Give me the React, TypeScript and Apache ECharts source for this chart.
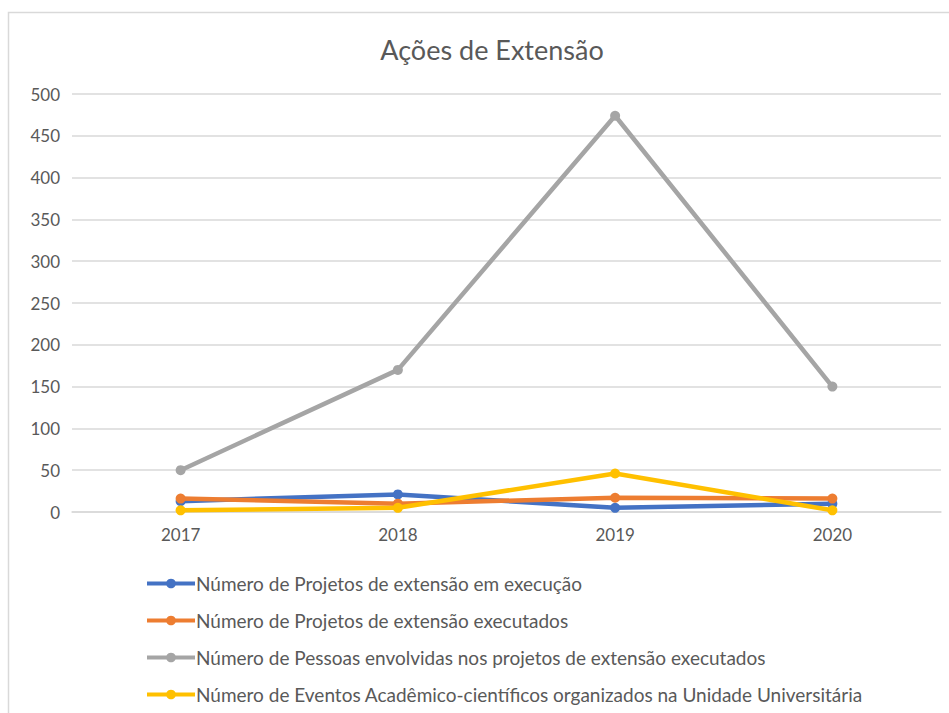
import React, { useEffect, useRef } from "react";
import * as echarts from "echarts";

const years = ["2017", "2018", "2019", "2020"];
const emExecucao = [13, 21, 5, 10];
const executados = [16, 10, 17, 16];
const pessoas = [50, 170, 474, 150];
const eventos = [2, 5, 46, 2];

const seriesNames = [
  "Número de Projetos de extensão em execução",
  "Número de Projetos de extensão executados",
  "Número de Pessoas envolvidas nos projetos de extensão executados",
  "Número de Eventos Acadêmico-científicos organizados na Unidade Universitária",
];
const colors = ["#4472C4", "#ED7D31", "#A5A5A5", "#FFC000"];

const FONT = "Lato, 'Open Sans', sans-serif";

export default function App() {
  const ref = useRef<HTMLDivElement>(null);
  useEffect(() => {
    if (!ref.current) return;
    const chart = echarts.init(ref.current, undefined, { renderer: "svg" });
    const datasets = [emExecucao, executados, pessoas, eventos];
    chart.setOption({
      animation: false,
      backgroundColor: "#ffffff",
      textStyle: { fontFamily: FONT },
      title: {
        text: "Ações de Extensão",
        left: 487,
        textAlign: "center",
        top: 31,
        textStyle: { fontFamily: FONT, fontSize: 27, fontWeight: "normal", color: "#595959" },
      },
      graphic: [
        {
          type: "rect",
          shape: { x: 8.5, y: 12.5, width: 1000, height: 800 },
          style: { fill: "none", stroke: "#d9d9d9", lineWidth: 1.5 },
          silent: true,
        },
      ],
      grid: { left: 72, right: 8, top: 94, bottom: 201 },
      legend: {
        orient: "vertical",
        left: 140,
        top: 569,
        itemWidth: 48,
        itemHeight: 12,
        itemGap: 18,
        lineStyle: { width: 4 },
        textStyle: { fontFamily: FONT, fontSize: 19, color: "#595959", padding: [0, 0, 0, -4] },
        data: seriesNames,
      },
      xAxis: {
        type: "category",
        data: years,
        boundaryGap: true,
        axisLine: { lineStyle: { color: "#d9d9d9", width: 1.5 } },
        axisTick: { show: false },
        axisLabel: { fontFamily: FONT, fontSize: 17, color: "#595959", margin: 14 },
      },
      yAxis: {
        type: "value",
        min: 0,
        max: 500,
        interval: 50,
        axisLine: { show: false },
        axisTick: { show: false },
        splitLine: { lineStyle: { color: "#d9d9d9", width: 1.5 } },
        axisLabel: { fontFamily: FONT, fontSize: 17, color: "#595959", margin: 12 },
      },
      series: datasets.map((d, i) => ({
        name: seriesNames[i],
        type: "line",
        data: d,
        symbol: "circle",
        symbolSize: 10,
        lineStyle: { width: 4.5, color: colors[i] },
        itemStyle: { color: colors[i] },
        z: 2 + i,
      })),
    });
    return () => chart.dispose();
  }, []);
  return (
    <div
      ref={ref}
      style={{ position: "fixed", left: 0, top: 0, width: 949, height: 713 }}
    />
  );
}
